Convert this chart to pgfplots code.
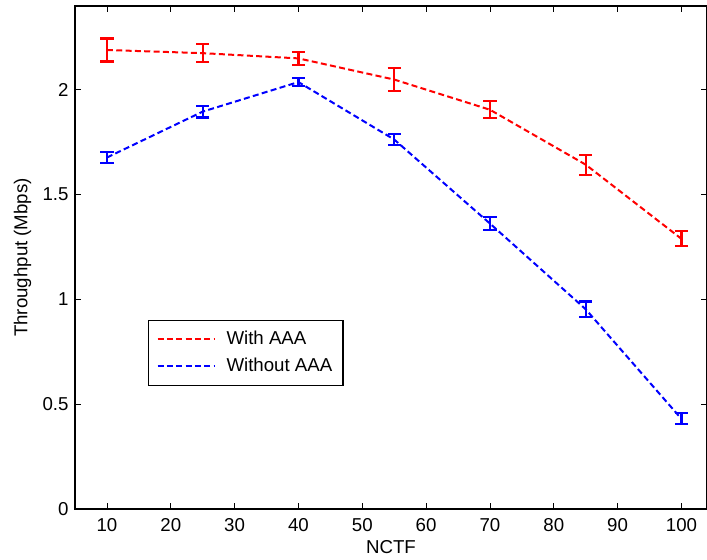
\documentclass[border=0pt]{standalone}
\usepackage{fontspec}
\setmainfont{Liberation Sans}
\usepackage{pgfplots}
\pgfplotsset{compat=1.18}
\begin{document}
\fontsize{14}{16}\selectfont
\begin{tikzpicture}[x=1pt,y=1pt]
\begin{axis}[
  scale only axis,
  width=474pt, height=377.25pt,
  xmin=5, xmax=104, ymin=0, ymax=2.4,
  xtick={10,20,...,100},
  ytick={0,0.5,1,1.5,2},
  yticklabels={0,0.5,1,1.5,2},
  tick align=inside,
  tick pos=both,
  major tick length=4.5pt,
  axis line style={line width=0.9pt},
  tick style={line width=0.5pt, black},
  /pgf/number format/assume math mode=true,
  ticklabel style={font=\fontsize{14}{16}\selectfont},
  xticklabel style={yshift=-2pt},
  xlabel={NCTF},
  ylabel={Throughput (Mbps)},
  label style={font=\fontsize{14}{16}\selectfont},
  xlabel style={yshift=3pt},
  ylabel style={yshift=-1pt},
  legend style={at={(0.1155,0.376)}, anchor=north west, draw=black, line width=0.8pt,
    font=\fontsize{14}{16}\selectfont, inner xsep=6pt, inner ysep=6pt, row sep=4pt},
  legend cell align=left,
  legend image code/.code={\draw[#1] (0pt,0pt) -- (43pt,0pt); \path (49pt,0pt);},
]
\addplot[red, line width=1.5pt, dash pattern=on 4.5pt off 2.5pt, mark=none, forget plot,
  error bars/.cd, y dir=both, y explicit,
  error bar style={solid, line width=1.6pt},
  error mark options={rotate=90, mark size=5pt, solid, line width=1.6pt}] coordinates {
  (10,2.19) +- (0,0.055)
  (25,2.175) +- (0,0.043)
  (40,2.15) +- (0,0.03)
  (55,2.049) +- (0,0.054)
  (70,1.905) +- (0,0.04)
  (85,1.643) +- (0,0.048)
  (100,1.289) +- (0,0.036)
};
\addplot[blue, line width=1.5pt, dash pattern=on 4.5pt off 2.5pt, mark=none, forget plot,
  error bars/.cd, y dir=both, y explicit,
  error bar style={solid, line width=1.6pt},
  error mark options={rotate=90, mark size=5pt, solid, line width=1.6pt}] coordinates {
  (10,1.677) +- (0,0.028)
  (25,1.896) +- (0,0.028)
  (40,2.037) +- (0,0.02)
  (55,1.763) +- (0,0.025)
  (70,1.362) +- (0,0.03)
  (85,0.953) +- (0,0.037)
  (100,0.43) +- (0,0.026)
};
\addlegendimage{red, line width=1.5pt, dash pattern=on 4.5pt off 2.5pt}
\addlegendentry{With AAA}
\addlegendimage{blue, line width=1.5pt, dash pattern=on 4.5pt off 2.5pt}
\addlegendentry{Without AAA}
\end{axis}
\pgfresetboundingbox
\path[use as bounding box] (current axis.south west) ++(-56.25pt,-37.5pt) rectangle ([yshift=4.5pt]current axis.north east);
\end{tikzpicture}
\end{document}
